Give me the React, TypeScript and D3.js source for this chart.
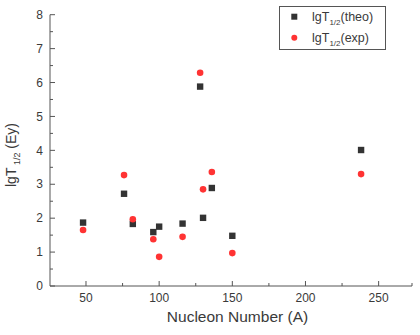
import React from "react";
import * as d3 from "d3";

const theoA = [48, 76, 82, 96, 100, 116, 128, 130, 136, 150, 238];
const theoV = [1.87, 2.72, 1.83, 1.59, 1.75, 1.84, 5.88, 2.01, 2.89, 1.48, 4.01];
const expA = [48, 76, 82, 96, 100, 116, 128, 130, 136, 150, 238];
const expV = [1.65, 3.27, 1.97, 1.38, 0.86, 1.45, 6.29, 2.85, 3.36, 0.97, 3.3];
const xTicks = [50, 100, 150, 200, 250];
const xMinor = [75, 125, 175, 225];
const yTicks = [0, 1, 2, 3, 4, 5, 6, 7, 8];
const yMinor = [0.5, 1.5, 2.5, 3.5, 4.5, 5.5, 6.5, 7.5];

const W = 420, H = 335;
const L = 50, R = 412, T = 14.7, B = 286;
const FONT = "'Liberation Sans', Arial, sans-serif";

export default function App() {
  const x = d3.scaleLinear().domain([25.4, 272.8]).range([L, R]);
  const y = d3.scaleLinear().domain([0, 8]).range([B, T]);
  const axisColor = "#555";
  const textColor = "#3a3a3a";
  const sq = 6.4;
  return (
    <svg width={W} height={H} style={{ position: "absolute", left: 0, top: 0 }} fontFamily={FONT}>
      <rect x={0} y={0} width={W} height={H} fill="#fff" />
      <line x1={L} x2={L} y1={T} y2={B} stroke={axisColor} strokeWidth={1} />
      <line x1={L} x2={R} y1={B} y2={B} stroke={axisColor} strokeWidth={1} />
      <line x1={R} x2={R} y1={B} y2={B - 3} stroke={axisColor} />
      {yTicks.map((t) => (
        <g key={"y" + t}>
          <line x1={L} x2={L + 5} y1={y(t)} y2={y(t)} stroke={axisColor} />
          <text x={L - 7} y={y(t)} dy="0.35em" textAnchor="end" fontSize={12} fill={textColor}>{t}</text>
        </g>
      ))}
      {yMinor.map((t) => (
        <line key={"ym" + t} x1={L} x2={L + 3} y1={y(t)} y2={y(t)} stroke={axisColor} />
      ))}
      {xTicks.map((t) => (
        <g key={"x" + t}>
          <line x1={x(t)} x2={x(t)} y1={B} y2={B - 5} stroke={axisColor} />
          <text x={x(t)} y={B + 16} textAnchor="middle" fontSize={12} fill={textColor}>{t}</text>
        </g>
      ))}
      {xMinor.map((t) => (
        <line key={"xm" + t} x1={x(t)} x2={x(t)} y1={B} y2={B - 3} stroke={axisColor} />
      ))}
      <text x={237.5} y={322} textAnchor="middle" fontSize={15.5} fill={textColor}>Nucleon Number (A)</text>
      <text transform={`translate(16,155) rotate(-90)`} textAnchor="middle" fontSize={14} fill={textColor}>
        lgT<tspan fontSize={9} dy={4}> 1/2</tspan><tspan dy={-4}> (Ey)</tspan>
      </text>
      {theoA.map((a, i) => (
        <rect key={"t" + i} x={x(a) - sq / 2} y={y(theoV[i]) - sq / 2} width={sq} height={sq} fill="#333" />
      ))}
      {expA.map((a, i) => (
        <circle key={"e" + i} cx={x(a)} cy={y(expV[i])} r={3.3} fill="#ff3333" />
      ))}
      <rect x={279.5} y={6.5} width={106} height={43} fill="#fff" stroke={axisColor} strokeWidth={1} />
      <rect x={294.3 - 3} y={16.7 - 3} width={6} height={6} fill="#333" />
      <circle cx={294.3} cy={37.7} r={3} fill="#ff3333" />
      <text x={312} y={21} fontSize={12.5} fill={textColor}>
        lgT<tspan fontSize={8} dy={4}>1/2</tspan><tspan dy={-4}>(theo)</tspan>
      </text>
      <text x={312} y={42} fontSize={12.5} fill={textColor}>
        lgT<tspan fontSize={8} dy={4}>1/2</tspan><tspan dy={-4}>(exp)</tspan>
      </text>
    </svg>
  );
}
